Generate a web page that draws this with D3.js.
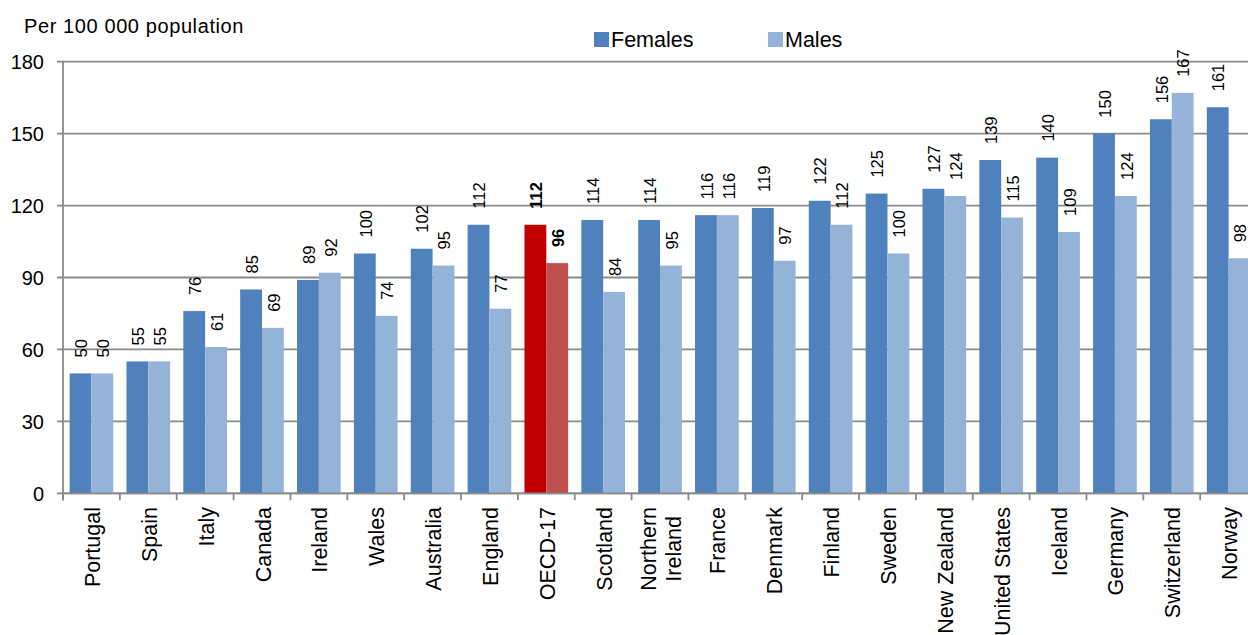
<!DOCTYPE html>
<html>
<head>
<meta charset="utf-8">
<script src="https://cdn.jsdelivr.net/npm/d3@7"></script>
<style>
  html, body { margin: 0; padding: 0; background: #fff; }
  svg { display: block; font-family: "Liberation Sans", Arial, sans-serif; }
</style>
</head>
<body>
<svg id="chart" width="1248" height="635"></svg>
<script>
const categories = ["Portugal","Spain","Italy","Canada","Ireland","Wales","Australia","England","OECD-17","Scotland","Northern Ireland","France","Denmark","Finland","Sweden","New Zealand","United States","Iceland","Germany","Switzerland","Norway"];
const females = [50,55,76,85,89,100,102,112,112,114,114,116,119,122,125,127,139,140,150,156,161];
const males   = [50,55,61,69,92,74,95,77,96,84,95,116,97,112,100,124,115,109,124,167,98];
const yTicks = [0,30,60,90,120,150,180];
const seriesNames = ["Females","Males"];
const highlight = "OECD-17";

(function() {
const svg = d3.select("#chart");
const plotLeft = 63, plotTop = 61.7, plotBottom = 493.3, step = 56.86;
const x0 = d3.scaleBand().domain(categories).range([plotLeft, plotLeft + categories.length * step]).padding(0);
const bw = x0.bandwidth();
const x1 = d3.scaleBand().domain(seriesNames).range([bw * 0.116, bw * 0.884]).padding(0);
const y = d3.scaleLinear().domain([0, 180]).range([plotBottom, plotTop]);

const colors = {
  Females: "#4F81BD", Males: "#95B3D7",
  hlFemales: "#C00000", hlMales: "#C0504D"
};

// gridlines
svg.append("g").selectAll("line").data(yTicks).join("line")
  .attr("x1", plotLeft - 6).attr("x2", 1248)
  .attr("y1", d => y(d)).attr("y2", d => y(d))
  .attr("stroke", "#8a8a8a").attr("stroke-width", 1.8);

// y tick labels
svg.append("g").selectAll("text").data(yTicks).join("text")
  .attr("x", 44).attr("y", d => y(d)).attr("dy", "0.36em")
  .attr("text-anchor", "end").attr("font-size", 20).attr("fill", "#000")
  .text(d => d);

// bars
const rows = categories.map((c, i) => ({ c, vals: [
  { s: "Females", v: females[i] }, { s: "Males", v: males[i] }
]}));

const groups = svg.append("g").selectAll("g").data(rows).join("g")
  .attr("transform", d => `translate(${x0(d.c)},0)`);

groups.selectAll("rect").data(d => d.vals.map(v => ({ ...v, c: d.c }))).join("rect")
  .attr("x", d => x1(d.s)).attr("width", x1.bandwidth())
  .attr("y", d => y(d.v)).attr("height", d => y(0) - y(d.v))
  .attr("fill", d => d.c === highlight ? colors["hl" + d.s] : colors[d.s]);

// value labels
groups.selectAll("text").data(d => d.vals.map(v => ({ ...v, c: d.c }))).join("text")
  .attr("transform", d => `translate(${x1(d.s) + x1.bandwidth() / 2 + 1},${y(d.v) - 16}) rotate(-90)`)
  .attr("dy", "0.35em").attr("text-anchor", "start")
  .attr("font-size", 16.5).attr("fill", "#000")
  .attr("font-weight", d => d.c === highlight ? "bold" : "normal")
  .text(d => d.v);

// axes lines
svg.append("line").attr("x1", plotLeft).attr("x2", plotLeft).attr("y1", plotTop).attr("y2", plotBottom + 7)
  .attr("stroke", "#8a8a8a").attr("stroke-width", 1.8);
svg.append("line").attr("x1", plotLeft).attr("x2", 1248).attr("y1", plotBottom).attr("y2", plotBottom)
  .attr("stroke", "#8a8a8a").attr("stroke-width", 1.8);

// x tick marks at group boundaries
const bounds = categories.map(c => x0(c)).concat([x0(categories[categories.length - 1]) + bw]);
svg.append("g").selectAll("line").data(bounds).join("line")
  .attr("x1", d => d).attr("x2", d => d).attr("y1", plotBottom).attr("y2", plotBottom + 7)
  .attr("stroke", "#8a8a8a").attr("stroke-width", 1.8);

// category labels (multi-line blocks centred, block top just below the axis)
const labelLines = d => d === "Northern Ireland" ? ["Northern", "Ireland"] : [d];
const lineGap = 25;
svg.append("g").selectAll("g").data(categories).join("g")
  .attr("transform", d => `translate(${x0(d) + bw / 2 + 1},507) rotate(-90)`)
  .each(function(d) {
    const g = d3.select(this);
    const lines = labelLines(d);
    const n = lines.length;
    const texts = g.selectAll("text").data(lines).join("text")
      .attr("font-size", 21.5).attr("fill", "#000")
      .attr("text-anchor", "middle")
      .attr("y", (l, i) => (i - (n - 1) / 2) * lineGap)
      .attr("dy", "0.35em")
      .text(l => l);
    let maxLen = 0;
    texts.each(function() { maxLen = Math.max(maxLen, this.getComputedTextLength()); });
    texts.attr("x", -maxLen / 2);
  });

// y axis title
svg.append("text").attr("x", 24).attr("y", 33).attr("font-size", 20)
  .attr("letter-spacing", 0.6).attr("fill", "#000").text("Per 100 000 population");

// legend
const legendX = [594, 768];
const lg = svg.append("g").selectAll("g").data(seriesNames).join("g")
  .attr("transform", (d, i) => `translate(${legendX[i]},32)`);
lg.append("rect").attr("width", 15).attr("height", 15).attr("fill", d => colors[d]);
lg.append("text").attr("x", 17).attr("y", 15).attr("font-size", 21.5).attr("fill", "#000").text(d => d);
})();
</script>
</body>
</html>
